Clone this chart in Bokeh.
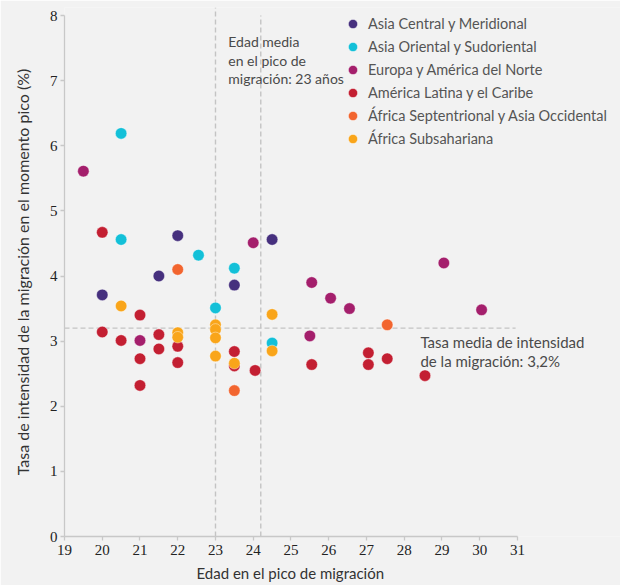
from bokeh.plotting import figure
from bokeh.models import (Range1d, FixedTicker, Legend, LegendItem, Label, Title)
from bokeh.embed import file_html
from bokeh.resources import INLINE

# ---------------- data ----------------
regions = [
    "Asia Central y Meridional",
    "Asia Oriental y Sudoriental",
    "Europa y América del Norte",
    "América Latina y el Caribe",
    "África Septentrional y Asia Occidental",
    "África Subsahariana",
]
colors = ["#46307e", "#13c0d8", "#a41f6c", "#c31f32", "#f2652f", "#f9a51a"]

asia_central_x = [20.0, 21.5, 22.0, 23.5, 24.5]
asia_central_y = [3.71, 4.00, 4.62, 3.86, 4.56]

asia_oriental_x = [20.5, 20.5, 22.55, 23.5, 23.0, 24.5]
asia_oriental_y = [6.19, 4.56, 4.32, 4.12, 3.51, 2.97]

europa_x = [19.5, 21.0, 24.0, 25.55, 26.05, 26.55, 25.5, 29.05, 30.05]
europa_y = [5.61, 3.01, 4.51, 3.90, 3.66, 3.50, 3.08, 4.20, 3.48]

latam_x = [20.0, 20.0, 20.5, 21.0, 21.0, 21.0, 21.5, 21.5, 22.0, 22.0,
           23.5, 23.5, 24.05, 25.55, 27.05, 27.05, 27.55, 28.55]
latam_y = [4.67, 3.14, 3.01, 3.40, 2.73, 2.32, 3.10, 2.88, 2.92, 2.67,
           2.84, 2.62, 2.55, 2.64, 2.82, 2.64, 2.73, 2.47]

africa_norte_x = [22.0, 23.5, 27.55]
africa_norte_y = [4.10, 2.24, 3.25]

africa_sub_x = [20.5, 22.0, 22.0, 23.0, 23.0, 23.0, 23.0, 23.5, 24.5, 24.5]
africa_sub_y = [3.54, 3.13, 3.06, 3.25, 3.18, 3.05, 2.77, 2.66, 3.41, 2.85]

xs = [asia_central_x, asia_oriental_x, europa_x, latam_x, africa_norte_x, africa_sub_x]
ys = [asia_central_y, asia_oriental_y, europa_y, latam_y, africa_norte_y, africa_sub_y]

x_ticks = list(range(19, 32))
y_ticks = list(range(0, 9))

mean_age = 23.0
second_age_line = 24.2
mean_rate = 3.2

# ---------------- figure ----------------
BG = "#f2f2f2"
Y_TOP = 8.123
p = figure(width=620, height=585, output_backend="svg", toolbar_location=None,
           x_range=Range1d(19, 33.73), y_range=Range1d(0, Y_TOP),
           min_border_left=64, min_border_right=0, min_border_top=7,
           min_border_bottom=49)
p.background_fill_color = BG
p.border_fill_color = BG
p.outline_line_color = None
p.xgrid.visible = False
p.ygrid.visible = False

AX = "#c8c8c8"
for ax in (p.xaxis[0], p.yaxis[0]):
    ax.axis_line_color = AX
    ax.axis_line_width = 1.3
    ax.major_tick_line_color = AX
    ax.major_tick_line_width = 1.3
    ax.major_tick_out = 4
    ax.major_tick_in = 0
    ax.minor_tick_line_color = None
    ax.major_label_text_font = "Liberation Sans Narrow"
    ax.major_label_text_font_size = "15px"
    ax.major_label_text_color = "#222222"

p.xaxis.ticker = FixedTicker(ticks=x_ticks)
p.xaxis.bounds = (x_ticks[0], x_ticks[-1])
p.xaxis.major_label_standoff = 4

p.yaxis.ticker = FixedTicker(ticks=y_ticks)
p.yaxis.bounds = (y_ticks[0], y_ticks[-1])
p.yaxis.major_label_standoff = 3
p.yaxis.axis_label = "Tasa de intensidad de la migración en el momento pico (%)"
p.yaxis.axis_label_text_font = "Lato"
p.yaxis.axis_label_text_font_style = "normal"
p.yaxis.axis_label_text_font_size = "16px"
p.yaxis.axis_label_text_color = "#333333"
p.yaxis.axis_label_standoff = 15

# x axis title, placed under the 19–31 part of the axis
xtitle = Title(text="Edad en el pico de migración", align="left",
               offset=132, standoff=8, text_font="Lato",
               text_font_style="normal", text_font_size="15px",
               text_color="#333333")
p.add_layout(xtitle, "below")

# reference lines
DASH = "#c4c4c4"
p.segment(x0=[mean_age], y0=[0], x1=[mean_age], y1=[Y_TOP],
          line_color=DASH, line_width=1.4, line_dash="5 3")
p.segment(x0=[second_age_line], y0=[0], x1=[second_age_line], y1=[8.0],
          line_color=DASH, line_width=1.4, line_dash="5 3")
p.segment(x0=[x_ticks[0]], y0=[mean_rate], x1=[30.95], y1=[mean_rate],
          line_color=DASH, line_width=1.4, line_dash="5 3")

# scatter
items = []
for name, col, x, y in zip(regions, colors, xs, ys):
    r = p.scatter(x=x, y=y, size=11.5, fill_color=col, line_color="white",
                  line_width=0.6, line_alpha=0.7)
    items.append(LegendItem(label=name, renderers=[r]))

legend = Legend(items=items, location=(277, 386))
legend.border_line_color = None
legend.background_fill_alpha = 0
legend.padding = 0
legend.margin = 0
legend.spacing = 0
legend.glyph_width = 23
legend.glyph_height = 23
legend.label_height = 23
legend.label_standoff = 4
legend.label_text_font = "Lato"
legend.label_text_font_size = "14.5px"
legend.label_text_color = "#555555"
p.add_layout(legend)

# annotations
ANN = "#4a4a4a"
for txt, yy in [("Edad media", 7.596), ("en el pico de", 7.312),
                ("migración:  23 años", 7.035)]:
    p.add_layout(Label(x=23.34, y=yy, text=txt, text_font="Lato",
                       text_font_size="14px", text_color=ANN,
                       text_baseline="middle", text_align="left"))
for txt, yy in [("Tasa media de intensidad", 2.985),
                ("de la migración: 3,2%", 2.693)]:
    p.add_layout(Label(x=28.43, y=yy, text=txt, text_font="Lato",
                       text_font_size="15px", text_color=ANN,
                       text_baseline="middle", text_align="left"))

open("out.html", "w").write(file_html(p, INLINE))
